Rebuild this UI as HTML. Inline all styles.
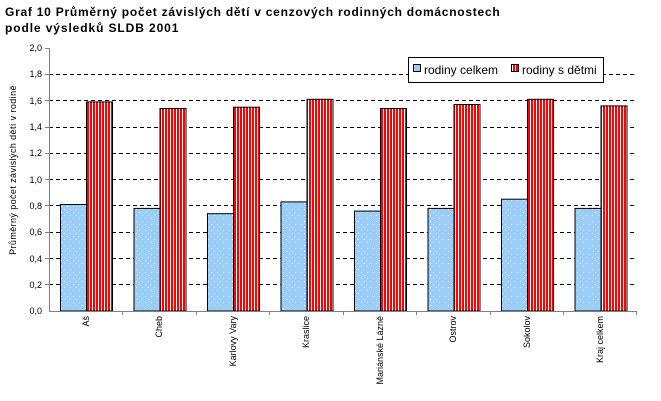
<!DOCTYPE html><html><head><style>body{margin:0;background:#fff}svg{display:block}</style></head><body>
<svg width="661" height="401" xmlns="http://www.w3.org/2000/svg" font-family="Liberation Sans, sans-serif">
<defs>
<pattern id="dots" width="6" height="6" patternUnits="userSpaceOnUse"><rect width="6" height="6" fill="#99ccff"/><rect x="1" y="2" width="1" height="1" fill="#fff"/><rect x="4" y="5" width="1" height="1" fill="#fff"/></pattern>
<pattern id="str" width="3" height="4" patternUnits="userSpaceOnUse"><rect width="3" height="4" fill="#fff"/><rect width="2" height="4" fill="#f00"/></pattern>
</defs>
<text x="5" y="16" font-size="12" font-weight="bold" letter-spacing="0.75">Graf 10  Průměrný počet závislých dětí v cenzových rodinných domácnostech</text>
<text x="5" y="32" font-size="12" font-weight="bold" letter-spacing="0.9">podle výsledků SLDB 2001</text>
<g stroke="#000" stroke-dasharray="4,3">
<line x1="49" x2="637" y1="74.5" y2="74.5"/><line x1="49" x2="637" y1="100.5" y2="100.5"/><line x1="49" x2="637" y1="127.5" y2="127.5"/><line x1="49" x2="637" y1="153.5" y2="153.5"/><line x1="49" x2="637" y1="179.5" y2="179.5"/><line x1="49" x2="637" y1="205.5" y2="205.5"/><line x1="49" x2="637" y1="232.5" y2="232.5"/><line x1="49" x2="637" y1="258.5" y2="258.5"/><line x1="49" x2="637" y1="284.5" y2="284.5"/>
</g>
<g stroke="#000" stroke-width="1">
<rect x="60.5" y="204.5" width="26" height="106.5" fill="url(#dots)"/><rect x="86.5" y="101.9" width="26" height="209.1" fill="url(#str)"/>
<rect x="134" y="208.4" width="26" height="102.6" fill="url(#dots)"/><rect x="160" y="108.5" width="26" height="202.5" fill="url(#str)"/>
<rect x="207.5" y="213.7" width="26" height="97.3" fill="url(#dots)"/><rect x="233.5" y="107.2" width="26" height="203.8" fill="url(#str)"/>
<rect x="281" y="201.9" width="26" height="109.1" fill="url(#dots)"/><rect x="307" y="99.3" width="26" height="211.7" fill="url(#str)"/>
<rect x="354.5" y="211.1" width="26" height="99.9" fill="url(#dots)"/><rect x="380.5" y="108.5" width="26" height="202.5" fill="url(#str)"/>
<rect x="428" y="208.4" width="26" height="102.6" fill="url(#dots)"/><rect x="454" y="104.5" width="26" height="206.5" fill="url(#str)"/>
<rect x="501.5" y="199.2" width="26" height="111.8" fill="url(#dots)"/><rect x="527.5" y="99.3" width="26" height="211.7" fill="url(#str)"/>
<rect x="575" y="208.4" width="26" height="102.6" fill="url(#dots)"/><rect x="601" y="105.9" width="26" height="205.1" fill="url(#str)"/>
</g>
<g stroke="#808080"><line x1="49.5" y1="48" x2="49.5" y2="311"/><line x1="49" y1="311.5" x2="637" y2="311.5"/>
<line x1="45" x2="49" y1="48.5" y2="48.5"/><line x1="45" x2="49" y1="74.5" y2="74.5"/><line x1="45" x2="49" y1="100.5" y2="100.5"/><line x1="45" x2="49" y1="127.5" y2="127.5"/><line x1="45" x2="49" y1="153.5" y2="153.5"/><line x1="45" x2="49" y1="179.5" y2="179.5"/><line x1="45" x2="49" y1="205.5" y2="205.5"/><line x1="45" x2="49" y1="232.5" y2="232.5"/><line x1="45" x2="49" y1="258.5" y2="258.5"/><line x1="45" x2="49" y1="284.5" y2="284.5"/>
<line x1="122.5" x2="122.5" y1="311" y2="315"/><line x1="196.5" x2="196.5" y1="311" y2="315"/><line x1="269.5" x2="269.5" y1="311" y2="315"/><line x1="343.5" x2="343.5" y1="311" y2="315"/><line x1="416.5" x2="416.5" y1="311" y2="315"/><line x1="490.5" x2="490.5" y1="311" y2="315"/><line x1="563.5" x2="563.5" y1="311" y2="315"/><line x1="636.5" x2="636.5" y1="311" y2="315"/>
</g>
<g font-size="9" text-anchor="end">
<text x="42" y="51">2,0</text><text x="42" y="77">1,8</text><text x="42" y="104">1,6</text><text x="42" y="130">1,4</text><text x="42" y="156">1,2</text><text x="42" y="183">1,0</text><text x="42" y="209">0,8</text><text x="42" y="235">0,6</text><text x="42" y="262">0,4</text><text x="42" y="288">0,2</text><text x="42" y="314">0,0</text>
</g>
<text transform="translate(16,170) rotate(-90)" font-size="9" text-anchor="middle" letter-spacing="0.4">Průměrný počet závislých dětí  v rodině</text>
<rect x="408.5" y="57.5" width="195" height="25" fill="#fff" stroke="#000"/>
<rect x="413.5" y="64.5" width="7" height="7" fill="#99ccff" stroke="#000"/>
<text x="424" y="74" font-size="12">rodiny celkem</text>
<rect x="511.5" y="64.5" width="7" height="7" fill="url(#str)" stroke="#000"/>
<text x="522" y="74" font-size="12">rodiny s dětmi</text>
<g font-size="9" text-anchor="end">
<text transform="translate(89,316) rotate(-90)">Aš</text>
<text transform="translate(162,316) rotate(-90)">Cheb</text>
<text transform="translate(236,316) rotate(-90)">Karlovy Vary</text>
<text transform="translate(309,316) rotate(-90)">Kraslice</text>
<text transform="translate(383,316) rotate(-90)">Mariánské Lázně</text>
<text transform="translate(456,316) rotate(-90)">Ostrov</text>
<text transform="translate(530,316) rotate(-90)">Sokolov</text>
<text transform="translate(603,316) rotate(-90)">Kraj celkem</text>
</g>
</svg></body></html>
